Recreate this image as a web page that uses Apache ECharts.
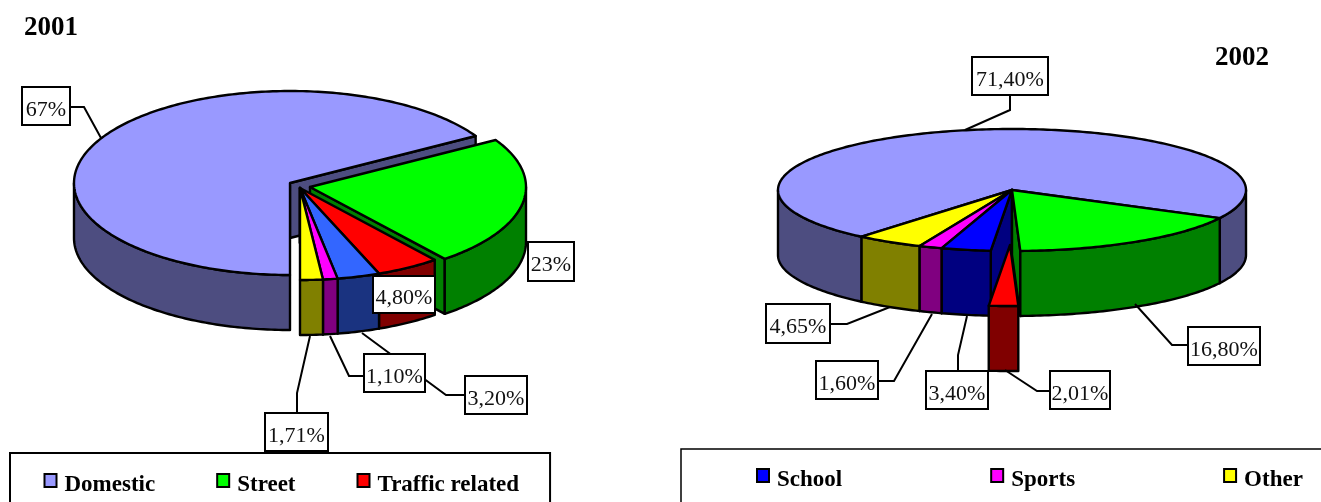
<!DOCTYPE html>
<html>
<head>
<meta charset="utf-8">
<style>html,body{margin:0;padding:0;background:#fff;overflow:hidden}#chart{width:1321px;height:502px}</style>
<script src="https://cdn.jsdelivr.net/npm/echarts@6/dist/echarts.min.js"></script>
</head>
<body>
<div id="chart"></div>
<script>
// Injury share by place of occurrence, one drum-style pie per year.
const categories = ['Domestic', 'Street', 'Traffic related', 'School', 'Sports', 'Other'];
const values2001 = [67, 23, 4.8, 3.2, 1.1, 1.71];
const values2002 = [71.4, 16.8, 2.01, 3.4, 1.6, 4.65];
const labels2001 = ['67%', '23%', '4,80%', '3,20%', '1,10%', '1,71%'];
const labels2002 = ['71,40%', '16,80%', '2,01%', '3,40%', '1,60%', '4,65%'];
const legendLeft = ['Domestic', 'Street', 'Traffic related'];
const legendRight = ['School', 'Sports', 'Other'];

const SERIF = '"Liberation Serif", "Times New Roman", serif';
const topColors = {
  2001: ['#9999FF', '#00FF00', '#FF0000', '#3366FF', '#FF00FF', '#FFFF00'],
  2002: ['#9999FF', '#00FF00', '#FF0000', '#0000FF', '#FF00FF', '#FFFF00']
};
const sideColors = {
  2001: ['#4D4D80', '#008000', '#800000', '#1A3380', '#800080', '#808000'],
  2002: ['#4D4D80', '#008000', '#800000', '#000080', '#800080', '#808000']
};

// Drum geometry: clockwise start angle from 12 o'clock, radii, wall height,
// the apex of each exploded slice and the back-to-front painting order.
const drums = {
  2001: {
    values: values2001, labels: labels2001, start: 180, rx: 216, ry: 92, depth: 55,
    apex: [[290, 183], [310, 187], [300, 188], [300, 188], [300, 188], [300, 188]],
    order: [0, 1, 2, 3, 4, 5],
    boxes: [[22, 87, 70, 125], [528, 242, 574, 281], [373, 276, 435, 313],
            [465, 376, 527, 414], [364, 354, 425, 392], [265, 413, 328, 451]],
    leaders: [[[70, 107], [84, 107], [101, 138]], [], [],
              [[465, 395], [446, 395], [362, 333]],
              [[364, 376], [349, 376], [330, 336]],
              [[297, 413], [297, 393], [310, 336]]]
  },
  2002: {
    values: values2002, labels: labels2002, start: 220, rx: 234, ry: 61, depth: 65,
    apex: [[1012, 190], [1012, 190], [1010, 245], [1012, 190], [1012, 190], [1012, 190]],
    order: [0, 5, 4, 3, 1, 2],
    boxes: [[972, 57, 1048, 95], [1188, 327, 1260, 365], [1050, 371, 1110, 409],
            [926, 371, 988, 409], [816, 361, 878, 399], [766, 304, 830, 343]],
    leaders: [[[1010, 95], [1010, 110], [965, 130]],
              [[1188, 345], [1172, 345], [1135, 304]],
              [[1050, 391], [1037, 391], [1005, 370]],
              [[958, 371], [958, 355], [967, 316]],
              [[878, 381], [894, 381], [932, 314]],
              [[830, 324], [847, 324], [890, 307]]]
  }
};

const rad = d => d * Math.PI / 180;
const sum = a => a.reduce((s, v) => s + v, 0);

function rimPoint(drum, apex, angle, drop) {
  return [apex[0] + drum.rx * Math.sin(rad(angle)),
          apex[1] - drum.ry * Math.cos(rad(angle)) + drop];
}

function arcPoints(drum, apex, from, to, drop) {
  const steps = Math.max(2, Math.ceil(Math.abs(to - from)));
  const pts = [];
  for (let i = 0; i <= steps; i++) {
    pts.push(rimPoint(drum, apex, from + (to - from) * i / steps, drop));
  }
  return pts;
}

function poly(points, fill, width) {
  return {
    type: 'polygon',
    shape: { points },
    style: { fill, stroke: '#000', lineWidth: width, lineJoin: 'round' }
  };
}

// One slice: radial walls facing the viewer, front rim, then the top face.
function sliceChildren(year, index, value) {
  const drum = drums[year];
  const total = sum(drum.values);
  const before = sum(drum.values.slice(0, index));
  const from = drum.start + before / total * 360;
  const to = from + value / total * 360;
  const apex = drum.apex[index];
  const top = topColors[year][index];
  const side = sideColors[year][index];
  const out = [];
  const wall = angle => poly([apex, rimPoint(drum, apex, angle, 0),
    rimPoint(drum, apex, angle, drum.depth), [apex[0], apex[1] + drum.depth]], side, 2.4);
  if (Math.sin(rad(from)) < -1e-6) out.push(wall(from));
  if (Math.sin(rad(to)) > 1e-6) out.push(wall(to));
  [[90, 270], [450, 630]].forEach(([lo, hi]) => {
    const a = Math.max(from, lo);
    const b = Math.min(to, hi);
    if (b > a) {
      out.push(poly(arcPoints(drum, apex, a, b, 0)
        .concat(arcPoints(drum, apex, b, a, drum.depth)), side, 2.4));
    }
  });
  out.push(poly([apex].concat(arcPoints(drum, apex, from, to, 0)), top, 2.4));
  return out;
}

function sliceSeries(year, index) {
  return {
    type: 'custom',
    name: categories[index],
    coordinateSystem: 'none',
    silent: true,
    legendHoverLink: false,
    itemStyle: { color: topColors[year][index] },
    data: [[drums[year].values[index]]],
    renderItem: (params, api) => ({
      type: 'group',
      children: sliceChildren(year, index, api.value(0))
    })
  };
}

// Boxed percentage callouts with their elbow leaders.
function calloutSeries(year) {
  const drum = drums[year];
  return {
    type: 'custom',
    name: 'callouts ' + year,
    coordinateSystem: 'none',
    silent: true,
    data: drum.labels.map((t, i) => [i]),
    renderItem: (params, api) => {
      const i = api.value(0);
      const b = drum.boxes[i];
      const children = [];
      if (drum.leaders[i].length) {
        children.push({
          type: 'polyline',
          shape: { points: drum.leaders[i] },
          style: { fill: null, stroke: '#000', lineWidth: 2 }
        });
      }
      children.push({
        type: 'rect',
        shape: { x: b[0], y: b[1], width: b[2] - b[0], height: b[3] - b[1] },
        style: { fill: '#fff', stroke: '#000', lineWidth: 2 }
      });
      children.push({
        type: 'text',
        style: {
          x: (b[0] + b[2]) / 2, y: (b[1] + b[3]) / 2 + 4,
          text: drum.labels[i], align: 'center', verticalAlign: 'middle',
          fill: '#111', font: '22px ' + SERIF
        }
      });
      return { type: 'group', children };
    }
  };
}

function legendEntries(names, year) {
  return names.map(name => ({
    name,
    icon: 'rect',
    itemStyle: {
      color: topColors[year][categories.indexOf(name)],
      borderColor: '#000',
      borderWidth: 2
    }
  }));
}

const series = [];
[2001, 2002].forEach(year => {
  drums[year].order.forEach(i => series.push(sliceSeries(year, i)));
  series.push(calloutSeries(year));
});

// Legend captions sit a little below their swatches.
const legendText = {
  rich: {
    cap: {
      color: '#000', fontFamily: SERIF, fontWeight: 'bold', fontSize: 23,
      padding: [9, 0, 0, 3]
    }
  }
};
const legendCaption = name => '{cap|' + name + '}';

const chart = echarts.init(document.getElementById('chart'), null, { renderer: 'canvas' });
chart.setOption({
  animation: false,
  backgroundColor: '#fff',
  title: [
    { text: '2001', left: 24, top: 15, padding: 0,
      textStyle: { color: '#000', fontFamily: SERIF, fontWeight: 'bold', fontSize: 27 } },
    { text: '2002', left: 1215, top: 45, padding: 0,
      textStyle: { color: '#000', fontFamily: SERIF, fontWeight: 'bold', fontSize: 27 } }
  ],
  legend: [
    {
      left: 10, top: 453, orient: 'horizontal', selectedMode: false,
      data: legendEntries(legendLeft, 2001), formatter: legendCaption,
      itemWidth: 12, itemHeight: 13, itemGap: 61,
      padding: [20, 31, 40, 33.5], borderColor: '#000', borderWidth: 2,
      backgroundColor: '#fff', textStyle: legendText
    },
    {
      left: 681, top: 449, width: 760, orient: 'horizontal', selectedMode: false,
      data: legendEntries(legendRight, 2002), formatter: legendCaption,
      itemWidth: 12, itemHeight: 13, itemGap: 148,
      padding: [19, 100, 40, 75], borderColor: '#000', borderWidth: 1.5,
      backgroundColor: '#fff', textStyle: legendText
    }
  ],
  series
});
</script>
</body>
</html>
